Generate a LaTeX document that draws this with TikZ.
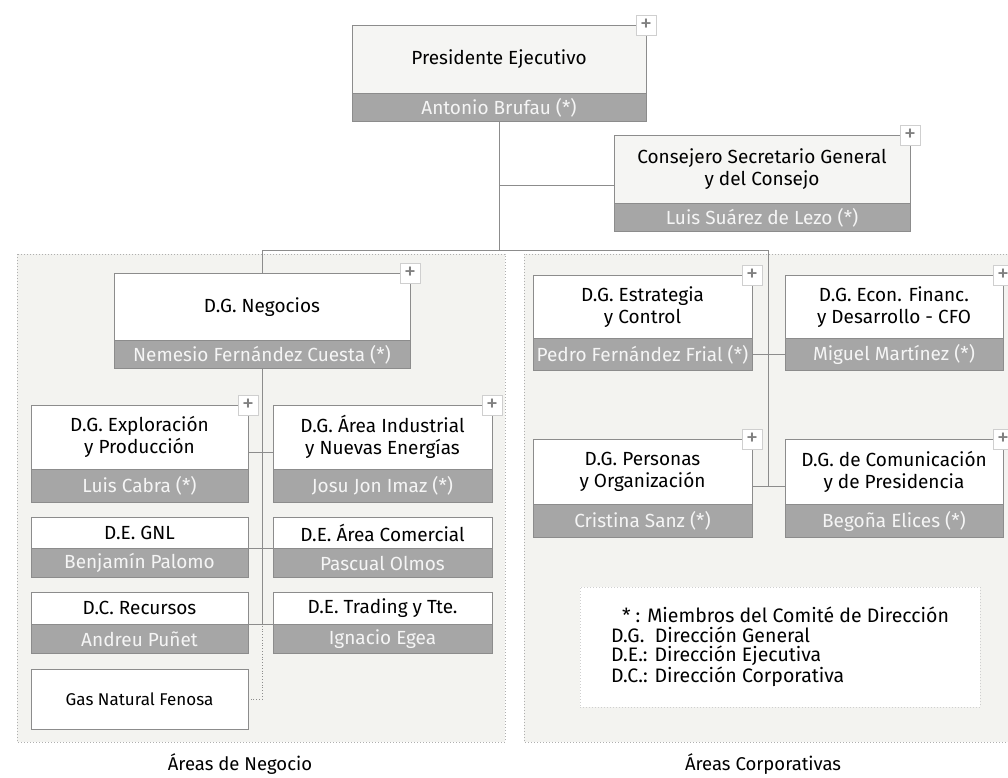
\documentclass[tikz,border=0pt]{standalone}
\usepackage{fontspec}
\setmainfont{Fira Sans}
\definecolor{areagray}{HTML}{F3F3F0}
\definecolor{headgray}{HTML}{F5F5F3}
\definecolor{bandgray}{HTML}{A6A6A6}
\definecolor{linegray}{HTML}{8C8C8C}
\definecolor{plusgray}{HTML}{CFCFCF}
\begin{document}
\begin{tikzpicture}
   [x=1pt, y=-1pt,
    head/.style={draw=linegray, fill=white, anchor=north, inner sep=0pt, align=center, font=\fontsize{19}{22}\selectfont},
    band/.style={draw=linegray, fill=bandgray, text=white!96!black, anchor=north, inner sep=0pt, font=\fontsize{19}{22}\selectfont},
    plus/.style={draw=plusgray, fill=white, minimum size=20pt, inner sep=0pt, text=gray, font=\fontsize{24}{24}\selectfont},
    link/.style={draw=linegray, line width=0.8pt},
    area/.style={draw=linegray!70, fill=areagray, dash pattern=on 1pt off 2pt}]
   \useasboundingbox (0,0) rectangle (1008,777);
   \clip (0,0) rectangle (1008,777);

   % the two areas
   \path[area] (17,254) rectangle (505,742);
   \path[area] (524,254) rectangle (1020,742);
   \node[font=\fontsize{18.5}{22}\selectfont] (negLbl) at (240,764) {Áreas de Negocio};
   \node[font=\fontsize{18.5}{22}\selectfont] (corpLbl) at (763,764) {Áreas Corporativas};

   % top
   \node[head, fill=headgray, minimum width=294pt, minimum height=68pt] (pres) at (499,25) {Presidente Ejecutivo};
   \node[band, minimum width=294pt, minimum height=28pt] (presN) at (pres.south) {Antonio Brufau (*)};
   \node[plus] (presP) at (pres.north east) {+};

   \node[head, fill=headgray, minimum width=296pt, minimum height=68pt] (cons) at (762,135) {Consejero Secretario General\\y del Consejo};
   \node[band, minimum width=296pt, minimum height=28pt] (consN) at (cons.south) {Luis Suárez de Lezo (*)};
   \node[plus] (consP) at (cons.north east) {+};

   % negocio
   \node[head, minimum width=296pt, minimum height=67pt] (neg) at (262,273) {D.G. Negocios};
   \node[band, minimum width=296pt, minimum height=28pt] (negN) at (neg.south) {Nemesio Fernández Cuesta (*)};
   \node[plus] (negP) at (neg.north east) {+};

   \node[head, minimum width=217pt, minimum height=64pt] (exp) at (139.5,405) {D.G. Exploración\\y Producción};
   \node[band, minimum width=217pt, minimum height=33pt] (expN) at (exp.south) {Luis Cabra (*)};
   \node[plus] (expP) at (exp.north east) {+};
   \node[head, minimum width=219pt, minimum height=64pt] (ind) at (382.5,405) {D.G. Área Industrial\\y Nuevas Energías};
   \node[band, minimum width=219pt, minimum height=33pt] (indN) at (ind.south) {Josu Jon Imaz (*)};
   \node[plus] (indP) at (ind.north east) {+};

   \node[head, minimum width=217pt, minimum height=31pt] (gnl) at (139.5,517) {D.E. GNL};
   \node[band, minimum width=217pt, minimum height=29pt] (gnlN) at (gnl.south) {Benjamín Palomo};
   \node[head, minimum width=219pt, minimum height=31pt] (com) at (382.5,517) {D.E. Área Comercial};
   \node[band, minimum width=219pt, minimum height=29pt] (comN) at (com.south) {Pascual Olmos};

   \node[head, minimum width=217pt, minimum height=32pt] (rec) at (139.5,592) {D.C. Recursos};
   \node[band, minimum width=217pt, minimum height=29pt] (recN) at (rec.south) {Andreu Puñet};
   \node[head, minimum width=219pt, minimum height=32pt] (tra) at (382.5,592) {D.E. Trading y Tte.};
   \node[band, minimum width=219pt, minimum height=29pt] (traN) at (tra.south) {Ignacio Egea};

   \node[head, minimum width=217pt, minimum height=60pt, font=\fontsize{17}{20}\selectfont] (gas) at (139.5,669) {Gas Natural Fenosa};

   % corporativas
   \node[head, minimum width=219pt, minimum height=63pt] (est) at (642.5,275) {D.G. Estrategia\\y Control};
   \node[band, minimum width=219pt, minimum height=32pt] (estN) at (est.south) {Pedro Fernández Frial (*)};
   \node[plus] (estP) at (est.north east) {+};
   \node[head, minimum width=218pt, minimum height=63pt] (eco) at (894,275) {D.G. Econ. Financ.\\y Desarrollo - CFO};
   \node[band, minimum width=218pt, minimum height=32pt] (ecoN) at (eco.south) {Miguel Martínez (*)};
   \node[plus] (ecoP) at (eco.north east) {+};

   \node[head, minimum width=219pt, minimum height=65pt] (per) at (642.5,439) {D.G. Personas\\y Organización};
   \node[band, minimum width=219pt, minimum height=33pt] (perN) at (per.south) {Cristina Sanz (*)};
   \node[plus] (perP) at (per.north east) {+};
   \node[head, minimum width=218pt, minimum height=65pt] (pre) at (894,439) {D.G. de Comunicación\\y de Presidencia};
   \node[band, minimum width=218pt, minimum height=33pt] (preN) at (pre.south) {Begoña Elices (*)};
   \node[plus] (preP) at (pre.north east) {+};

   \node[draw=plusgray, dash pattern=on 1pt off 2pt, fill=white, minimum width=400pt, minimum height=120pt,
         align=left, font=\fontsize{19.5}{19.5}\selectfont] (legend) at (780,647)
         {\hspace*{11pt}* : Miembros del Comité de Dirección\\D.G.\ \ Dirección General\\D.E.: Dirección Ejecutiva\\D.C.: Dirección Corporativa};

   % connectors
   \coordinate (hubR) at (768,250);
   \coordinate (consJ) at (499,185);
   \coordinate (corpJ) at (768,486);
   \coordinate (expJ) at (262,452);
   \coordinate (negJ) at (262,623);
   \draw[link] (presN.south) -- (presN.south |- hubR);
   \draw[link] (consJ) -- (consJ -| cons.west);
   \draw[link] (neg.north) |- (hubR) -- (corpJ);
   \draw[link] (estN.east) -- (ecoN.west);
   \draw[link] (corpJ -| per.east) -- (corpJ -| pre.west);
   \draw[link] (negN.south) -- (negJ);
   \draw[link] (expJ -| exp.east) -- (expJ -| ind.west);
   \draw[link] (gnl.south east) -- (com.south west);
   \draw[link] (rec.south east) -- (tra.south west);
   \draw[link, dotted] (negJ) |- (gas.east);
\end{tikzpicture}
\end{document}
